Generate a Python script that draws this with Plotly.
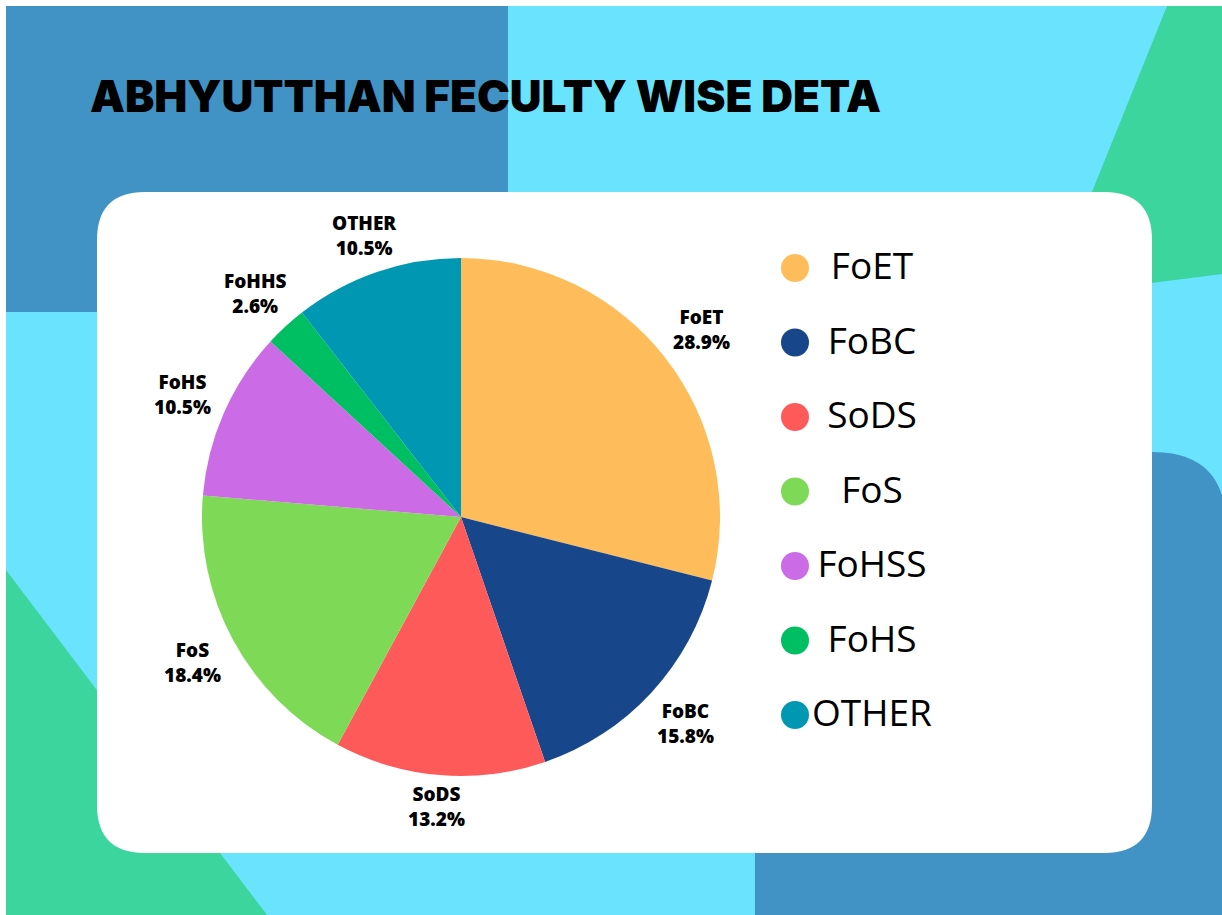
import numpy as np
import plotly.graph_objects as go

# ---- data -------------------------------------------------------------
faculties = ["FoET", "FoBC", "SoDS", "FoS", "FoHS", "FoHHS", "OTHER"]
counts = [11, 6, 5, 7, 4, 1, 4]
slice_colors = ["#FFBC5A", "#18468A", "#FF5A5A", "#7ED957", "#CB6CE6", "#00BF63", "#0097B2"]
legend_labels = ["FoET", "FoBC", "SoDS", "FoS", "FoHSS", "FoHS", "OTHER"]
title_text = "ABHYUTTHAN FECULTY WISE DETA"

# ---- canvas geometry (pixels, origin top-left) ------------------------
W, H = 1222, 915
CX, CY, R = 461, 517, 259          # pie centre and radius
LABEL_GAP, LABEL_HW, LABEL_HH = 4, 34, 25   # gap from rim, label half-box
LEG_MARK_X, LEG_TEXT_X = 795, 872
LEG_Y0, LEG_STEP = 268, 74.5

C_BLUE = "#4192C5"
C_CYAN = "#69E3FE"
C_GREEN = "#3CD59D"


def rounded_rect(x0, y0, x1, y1, r, corners=(True, True, True, True)):
    """Path for a rectangle with optional rounded corners (tl, tr, br, bl)."""
    tl, tr, br, bl = [r if c else 0 for c in corners]
    return (
        f"M {x0 + tl},{y0} L {x1 - tr},{y0} Q {x1},{y0} {x1},{y0 + tr} "
        f"L {x1},{y1 - br} Q {x1},{y1} {x1 - br},{y1} "
        f"L {x0 + bl},{y1} Q {x0},{y1} {x0},{y1 - bl} "
        f"L {x0},{y0 + tl} Q {x0},{y0} {x0 + tl},{y0} Z"
    )


def polygon(pts):
    return "M " + " L ".join(f"{x},{y}" for x, y in pts) + " Z"


shapes = [
    dict(type="rect", x0=6, y0=6, x1=W, y1=H, fillcolor=C_CYAN),
    dict(type="rect", x0=6, y0=6, x1=508, y1=312, fillcolor=C_BLUE),
    dict(type="path", path=polygon([(1167, 6), (W, 6), (W, 274), (1050, 296)]), fillcolor=C_GREEN),
    dict(type="path", path=polygon([(6, 570), (267, H), (6, H)]), fillcolor=C_GREEN),
    dict(type="path", path=rounded_rect(755, 452, 1226, H + 10, 74, (False, True, False, False)),
         fillcolor=C_BLUE),
    dict(type="path", path=rounded_rect(97, 192, 1152, 853, 48), fillcolor="#FFFFFF"),
]
for s in shapes:
    s.update(xref="x", yref="y", layer="below", line=dict(width=0))

fig = go.Figure()

# ---- pie --------------------------------------------------------------
fig.add_trace(go.Pie(
    labels=faculties,
    values=counts,
    sort=False,
    direction="clockwise",
    rotation=0,
    marker=dict(colors=slice_colors, line=dict(width=0)),
    textinfo="none",
    hoverinfo="label+percent",
    showlegend=False,
    domain=dict(x=[(CX - R) / W, (CX + R) / W],
                y=[(H - CY - R) / H, (H - CY + R) / H]),
))

# slice labels: a box just outside the rim, along each slice's mid-angle
vals = np.array(counts, dtype=float)
frac = vals / vals.sum()
mid = np.cumsum(frac) - frac / 2
annotations = []
for name, f, m in zip(faculties, frac, mid):
    ang = 2 * np.pi * m
    sx, cy = np.sin(ang), np.cos(ang)
    dist = R + LABEL_GAP + abs(sx) * LABEL_HW + abs(cy) * LABEL_HH
    annotations.append(dict(
        x=CX + dist * sx, y=CY - dist * cy,
        xref="x", yref="y", showarrow=False,
        text=f"{name}<br>{f * 100:.1f}%",
        font=dict(family="Open Sans", size=19, color="#000000", weight=800),
        xanchor="center", yanchor="middle", align="center",
    ))

# ---- custom legend ----------------------------------------------------
leg_y = [LEG_Y0 + i * LEG_STEP for i in range(len(legend_labels))]
fig.add_trace(go.Scatter(
    x=[LEG_MARK_X] * len(legend_labels), y=leg_y, mode="markers",
    marker=dict(size=28, color=slice_colors, line=dict(width=0)),
    hoverinfo="skip", showlegend=False,
))
fig.add_trace(go.Scatter(
    x=[LEG_TEXT_X] * len(legend_labels), y=[y + 2 for y in leg_y], mode="text",
    text=legend_labels, textposition="middle center",
    textfont=dict(family="Open Sans", size=37, color="#000000"),
    hoverinfo="skip", showlegend=False,
))

# ---- title ------------------------------------------------------------
annotations.append(dict(
    x=88, y=96, xref="x", yref="y", showarrow=False, text=title_text,
    font=dict(family="Inter", size=44, color="#000000", weight=900),
    xanchor="left", yanchor="middle",
))

fig.update_layout(
    width=W, height=H,
    margin=dict(l=0, r=0, t=0, b=0),
    paper_bgcolor="#FFFFFF", plot_bgcolor="rgba(0,0,0,0)",
    xaxis=dict(range=[0, W], visible=False, fixedrange=True),
    yaxis=dict(range=[H, 0], visible=False, fixedrange=True),
    shapes=shapes, annotations=annotations,
    showlegend=False,
)

fig.write_html("out.html")
